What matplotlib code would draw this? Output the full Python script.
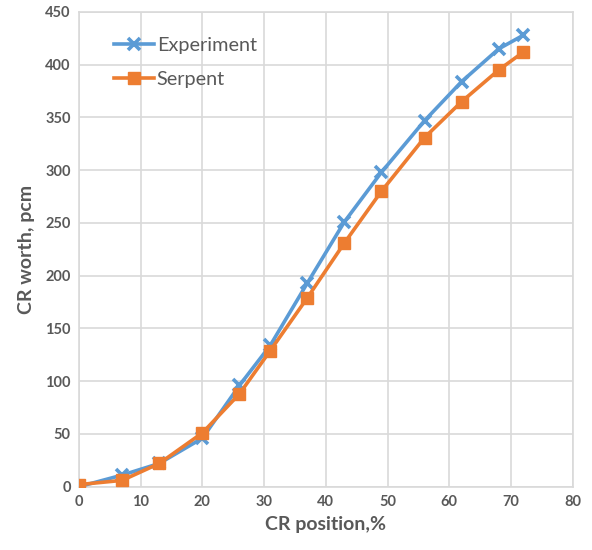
import matplotlib
matplotlib.use("Agg")
import matplotlib.pyplot as plt

x_pos = [0, 7, 13, 20, 26, 31, 37, 43, 49, 56, 62, 68, 72]
experiment = [0, 11, 22, 46, 96, 134, 193, 251, 298, 347, 384, 415, 428]
serpent = [2, 6, 22, 51, 88, 129, 179, 231, 280, 331, 365, 395, 412]
xticks = [0, 10, 20, 30, 40, 50, 60, 70, 80]
yticks = [0, 50, 100, 150, 200, 250, 300, 350, 400, 450]

plt.rcParams['font.family'] = ['Lato', 'DejaVu Sans']

fig = plt.figure(figsize=(5.92, 5.5), dpi=100)
ax = fig.add_axes([0.1334, 0.1151, 0.8340, 0.8631])

blue = '#5B9BD5'
orange = '#ED7D31'
ax.plot(x_pos, experiment, color=blue, lw=2.6, marker='x', markersize=9,
        markeredgewidth=2.6, label='Experiment', zorder=3)
ax.plot(x_pos, serpent, color=orange, lw=2.6, marker='s', markersize=8,
        label='Serpent', zorder=4)

ax.set_xlim(0, 80)
ax.set_ylim(0, 450)
ax.set_xticks(xticks)
ax.set_yticks(yticks)
ax.grid(True, color='#D9D9D9', lw=1.2)
ax.set_axisbelow(True)
for s in ax.spines.values():
    s.set_color('#D9D9D9')
    s.set_linewidth(1.2)
ax.tick_params(length=0, labelsize=10.5, colors='#595959', pad=6)
for lab in ax.get_xticklabels() + ax.get_yticklabels():
    lab.set_fontweight('bold')

ax.set_xlabel('CR position,%', fontsize=14, fontweight='bold', color='#595959', labelpad=5)
ax.set_ylabel('CR worth, pcm', fontsize=14, fontweight='bold', color='#595959', labelpad=7)

leg = ax.legend(loc='upper left', bbox_to_anchor=(0.035, 0.985), frameon=False,
                fontsize=14.3, handlelength=2.0, labelspacing=0.85, handletextpad=0.15,
                labelcolor='#595959')

fig.savefig('out.png', dpi=100)
